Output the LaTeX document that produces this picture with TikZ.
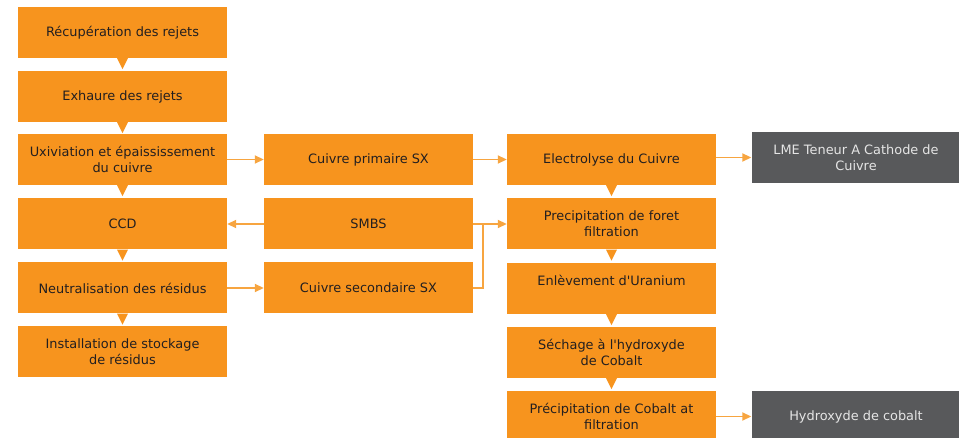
\documentclass[tikz,border=0pt]{standalone}
\usepackage{fontspec}
\setmainfont{DejaVu Sans}
\usetikzlibrary{arrows.meta}

\definecolor{boxorange}{HTML}{F7941E}
\definecolor{lineorange}{HTML}{F7A540}
\definecolor{boxgrey}{HTML}{58595B}
\definecolor{textdark}{HTML}{231F20}

\tikzset{
  stage/.style={fill=boxorange, text=textdark, minimum width=209pt, minimum height=51pt,
    align=center, inner sep=2pt, font=\fontsize{12.9}{15.8}\selectfont},
  product/.style={stage, fill=boxgrey, text=white!90!black},
  flow/.style={draw=lineorange, line width=1.8pt, -{Triangle[length=9pt,width=8pt]}},
  feed/.style={draw=lineorange, line width=1.8pt},
}
\newcommand{\pointer}[1]{\fill[boxorange] ([xshift=-5.5pt]#1.south) -- ([xshift=5.5pt]#1.south) -- ([yshift=-11pt]#1.south) -- cycle;}

\begin{document}
\begin{tikzpicture}[x=1pt,y=-1pt]
\useasboundingbox (0,0) rectangle (959,438);

% left column
\node[stage] (recup) at (122.5,32.5) {Récupération des rejets};
\node[stage] (exhaure) at (122.5,96.5) {Exhaure des rejets};
\node[stage] (lixiv) at (122.5,159.5) {Uxiviation et épaississement\\du cuivre};
\node[stage] (ccd) at (122.5,224) {CCD};
\node[stage] (neutral) at (122.5,288) {Neutralisation des résidus};
\node[stage] (stockage) at (122.5,351.5) {Installation de stockage\\de résidus};

% middle column
\node[stage] (sxprim) at (368.5,159.5) {Cuivre primaire SX};
\node[stage] (smbs) at (368.5,224) {SMBS};
\node[stage] (sxsec) at (368.5,288) {Cuivre secondaire SX};

% right column
\node[stage] (electro) at (611.5,159.5) {Electrolyse du Cuivre};
\node[stage] (precipfe) at (611.5,224) {Precipitation de foret\\filtration};
\node[stage] (uranium) at (611.5,288.5) {Enlèvement d\textquotesingle Uranium\\~};
\node[stage] (sechage) at (611.5,352.5) {Séchage à l\textquotesingle hydroxyde\\de Cobalt};
\node[stage] (precipco) at (611.5,416.5) {Précipitation de Cobalt at\\filtration};

% products
\node[product] (cathode) at (856,157.5) {LME Teneur A Cathode de\\Cuivre};
\node[product] (cobalt) at (856,416.5) {Hydroxyde de cobalt};

% down pointers
\foreach \n in {recup,exhaure,lixiv,ccd,neutral,electro,precipfe,uranium,sechage}
  \pointer{\n};

% connectors
\coordinate (merge) at (483,224);
\draw[flow] (lixiv.east) -- (sxprim.west);
\draw[flow] (sxprim.east) -- (electro.west);
\draw[flow] (electro.east |- cathode.west) -- (cathode.west);
\draw[flow] (smbs.west) -- (ccd.east);
\draw[flow] (neutral.east) -- (sxsec.west);
\draw[flow] (smbs.east) -- (precipfe.west);
\draw[feed] (sxsec.east) -| (merge);
\draw[flow] (precipco.east) -- (cobalt.west);
\end{tikzpicture}
\end{document}
